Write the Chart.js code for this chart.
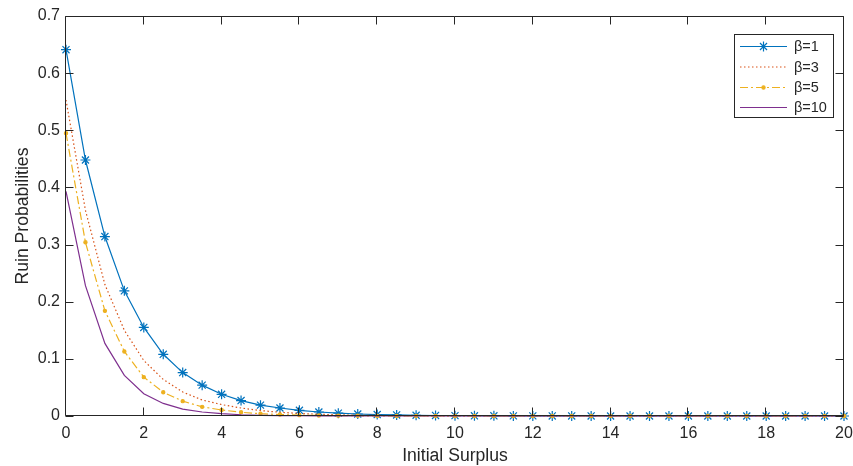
<!DOCTYPE html>
<html>
<head>
<meta charset="utf-8">
<script src="https://cdn.jsdelivr.net/npm/chart.js@4/dist/chart.umd.min.js"></script>
<style>
  html, body { margin: 0; padding: 0; background: #ffffff; }
  #wrap { width: 853px; height: 466px; }
</style>
</head>
<body>
<div id="wrap"><canvas id="c" width="853" height="466"></canvas></div>
<script>
// ---- data ----
const xValues = [0,0.5,1,1.5,2,2.5,3,3.5,4,4.5,5,5.5,6,6.5,7,7.5,8,8.5,9,9.5,10,
                 10.5,11,11.5,12,12.5,13,13.5,14,14.5,15,15.5,16,16.5,17,17.5,18,18.5,19,19.5,20];
const beta1 = [0.641,0.448,0.314,0.219,0.155,0.108,0.076,0.054,0.038,0.027,0.019,0.014,0.010,0.007,0.005,
               0.0035,0.0025,0.0018,0.0013,0.0009,0.0006,0.0004,0.0003,0.0002,0.0002,0.0001,0.0001,0.0001,
               0,0,0,0,0,0,0,0,0,0,0,0,0];
const beta3 = [0.553,0.360,0.230,0.150,0.097,0.064,0.042,0.028,0.020,0.014,0.0095,0.0065,0.0045,0.003,0.002,
               0.0014,0.001,0.0007,0.0005,0.0003,0.0002,0.0001,0.0001,
               0,0,0,0,0,0,0,0,0,0,0,0,0,0,0,0,0,0,0];
const beta5 = [0.495,0.304,0.184,0.113,0.068,0.0415,0.026,0.016,0.0105,0.0065,0.004,0.0025,0.0015,0.001,
               0.0006,0.0004,0.0002,0.0001,
               0,0,0,0,0,0,0,0,0,0,0,0,0,0,0,0,0,0,0,0,0,0,0];
const beta10 = [0.393,0.228,0.127,0.071,0.039,0.022,0.012,0.007,0.004,0.0022,0.0012,0.0007,0.0004,0.0002,0.0001,
                0,0,0,0,0,0,0,0,0,0,0,0,0,0,0,0,0,0,0,0,0,0,0,0,0,0];
const seriesLabels = ['β=1','β=3','β=5','β=10'];
const xTickLabels = ['0','2','4','6','8','10','12','14','16','18','20'];
const yTickLabels = ['0','0.1','0.2','0.3','0.4','0.5','0.6','0.7'];
const xTitle = 'Initial Surplus';
const yTitle = 'Ruin Probabilities';

// ---- styling ----
const AX = '#262626';
const FONT = '"Liberation Sans", Arial, Helvetica, sans-serif';
const colors = ['#0072BD', '#D95319', '#EDB120', '#7E2F8E'];
const dashes = [[], [1.5, 2.5], [8, 3, 2, 3], []];
const pStyles = ['star', 'circle', 'circle', 'circle'];
const pRadius = [5, 0, 1.6, 0];

const toXY = arr => arr.map((v, i) => ({ x: xValues[i], y: v }));
const allSeries = [beta1, beta3, beta5, beta10];

const datasets = allSeries.map((s, i) => ({
  label: seriesLabels[i],
  data: toXY(s),
  borderColor: colors[i],
  backgroundColor: colors[i],
  borderWidth: 1.2,
  borderDash: dashes[i],
  pointStyle: pStyles[i],
  pointRadius: pRadius[i],
  pointBorderWidth: 1.2,
  pointBorderColor: colors[i],
  pointBackgroundColor: colors[i],
  pointHoverRadius: pRadius[i],
  tension: 0,
  clip: false,
  order: 4 - i
}));

const boxPlugin = {
  id: 'matlabBox',
  afterDatasetsDraw(chart) {
    const { ctx, chartArea: a, scales } = chart;
    const xs = scales.x, ys = scales.y;
    ctx.save();
    ctx.strokeStyle = AX;
    ctx.lineWidth = 1;
    const L = Math.round(a.left) - 0.5, R = Math.round(a.right) - 0.5;
    const T = Math.round(a.top) + 0.5, B = Math.round(a.bottom) - 0.5;
    ctx.beginPath();
    ctx.rect(L, T, R - L, B - T);
    const tl = 8;
    xTickLabels.forEach(t => {
      const px = Math.round(xs.getPixelForValue(parseFloat(t))) - 0.5;
      ctx.moveTo(px, B); ctx.lineTo(px, B - tl);
      ctx.moveTo(px, T); ctx.lineTo(px, T + tl);
    });
    yTickLabels.forEach(t => {
      const py = Math.round(ys.getPixelForValue(parseFloat(t))) + 0.5;
      ctx.moveTo(L, py); ctx.lineTo(L + tl, py);
      ctx.moveTo(R, py); ctx.lineTo(R - tl, py);
    });
    ctx.stroke();

    // legend
    const lx0 = 734.5, ly0 = 34.5, lw = 99, lh = 83;
    ctx.fillStyle = '#ffffff';
    ctx.fillRect(lx0, ly0, lw, lh);
    ctx.strokeStyle = AX;
    ctx.strokeRect(lx0, ly0, lw, lh);
    const rows = [46, 66.5, 87, 107];
    ctx.font = '14.5px ' + FONT;
    ctx.textBaseline = 'middle';
    ctx.textAlign = 'left';
    seriesLabels.forEach((lab, i) => {
      const y = rows[i] + 0.5;
      ctx.save();
      ctx.strokeStyle = colors[i];
      ctx.lineWidth = 1.2;
      ctx.setLineDash(dashes[i]);
      ctx.beginPath();
      ctx.moveTo(740, y); ctx.lineTo(787, y);
      ctx.stroke();
      ctx.setLineDash([]);
      if (pRadius[i] > 0) {
        ctx.fillStyle = colors[i];
        ctx.strokeStyle = colors[i];
        ctx.lineWidth = 1.2;
        Chart.helpers.drawPoint(ctx, { pointStyle: pStyles[i], radius: pRadius[i], borderWidth: 1.2, rotation: 0 }, 763.5, y);
      }
      ctx.restore();
      ctx.fillStyle = AX;
      ctx.fillText(lab, 794, rows[i] + 1);
    });
    ctx.restore();
  }
};

new Chart(document.getElementById('c'), {
  type: 'line',
  data: { datasets },
  plugins: [boxPlugin],
  options: {
    responsive: false,
    devicePixelRatio: 1,
    animation: false,
    events: [],
    layout: { padding: { left: 0, right: 9, top: 16, bottom: 0 } },
    plugins: { legend: { display: false }, tooltip: { enabled: false } },
    scales: {
      x: {
        type: 'linear', min: 0, max: 20,
        grid: { display: false, drawTicks: false },
        border: { display: false },
        ticks: {
          stepSize: 2, padding: 8, color: AX, maxRotation: 0,
          font: { family: FONT, size: 16 },
          callback: (v) => { const s = String(v); return xTickLabels.includes(s) ? s : null; }
        },
        title: { display: true, text: xTitle, color: AX, font: { family: FONT, size: 17.6 }, padding: { top: 0, bottom: -1 } },
        afterFit: (s) => { s.height = 50; s.paddingLeft = 0; s.paddingRight = 0; }
      },
      y: {
        type: 'linear', min: 0, max: 0.7,
        grid: { display: false, drawTicks: false },
        border: { display: false },
        ticks: {
          stepSize: 0.1, padding: 6, color: AX,
          font: { family: FONT, size: 16 },
          callback: (v) => yTickLabels[Math.round(v * 10)]
        },
        title: { display: true, text: yTitle, color: AX, font: { family: FONT, size: 17.6 }, padding: { top: 12.5, bottom: 0 } },
        afterFit: (s) => { s.width = 66; s.paddingTop = 0; s.paddingBottom = 0; }
      }
    }
  }
});
</script>
</body>
</html>
